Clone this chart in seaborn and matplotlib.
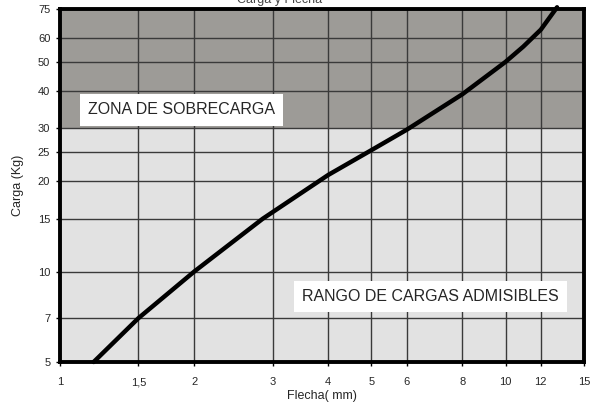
import matplotlib
matplotlib.use('Agg')
import matplotlib.pyplot as plt
from matplotlib.ticker import FixedLocator, NullLocator
import pandas as pd
import seaborn as sns

# curva carga - flecha
flecha = [1.19, 1.5, 2.0, 2.85, 4.0, 5.0, 6.0, 8.0, 10.0, 10.96, 12.0, 13.05]
carga = [5, 7, 10, 15, 21.0, 25.4, 29.7, 39.0, 50, 56.2, 64, 76]

x_ticks = [1, 1.5, 2, 3, 4, 5, 6, 8, 10, 12, 15]
x_labels = ['1', '1,5', '2', '3', '4', '5', '6', '8', '10', '12', '15']
y_ticks = [5, 7, 10, 15, 20, 25, 30, 40, 50, 60, 75]
y_labels = [str(v) for v in y_ticks]

limite_sobrecarga = 30

sns.set_style('white')
plt.rcParams['font.family'] = ['Liberation Sans', 'DejaVu Sans']

df = pd.DataFrame({'flecha': flecha, 'carga': carga})

fig = plt.figure(figsize=(5.92, 4.07), dpi=100)
ax = fig.add_axes([60 / 592, 1 - 362 / 407, 524 / 592, 353 / 407])
ax.set_xscale('log')
ax.set_yscale('log')
ax.set_xlim(1, 15)
ax.set_ylim(5, 75)

# zonas
ax.axhspan(5, limite_sobrecarga, color='#e2e2e2', zorder=0, lw=0)
ax.axhspan(limite_sobrecarga, 75, color='#9d9b97', zorder=0, lw=0)

# rejilla
for v in x_ticks[1:-1]:
    ax.axvline(v, color='#3a3a3a', lw=1.0, zorder=1)
for v in y_ticks[1:-1]:
    ax.axhline(v, color='#3a3a3a', lw=1.0, zorder=1)

sns.lineplot(data=df, x='flecha', y='carga', ax=ax, color='black', lw=3.2,
             sort=False, zorder=3, clip_on=False)

ax.xaxis.set_major_locator(FixedLocator(x_ticks))
ax.xaxis.set_minor_locator(NullLocator())
ax.set_xticklabels(x_labels)
ax.yaxis.set_major_locator(FixedLocator(y_ticks))
ax.yaxis.set_minor_locator(NullLocator())
ax.set_yticklabels(y_labels)
ax.tick_params(axis='both', labelsize=8, length=3, width=1, direction='out',
               bottom=True, left=True, color='black', pad=4)
ax.tick_params(axis='x', pad=8)

for s in ax.spines.values():
    s.set_visible(True)
    s.set_color('black')
    s.set_linewidth(2.8)
    s.set_zorder(4)

ax.set_xlabel('Flecha( mm)', fontsize=9, labelpad=2)
ax.set_ylabel('Carga (Kg)', fontsize=9, labelpad=10)

ax.text(1.155, 34.6, 'ZONA DE SOBRECARGA', fontsize=11.5, va='center', ha='left',
        zorder=5, bbox=dict(facecolor='white', edgecolor='none', pad=6))
ax.text(3.49, 8.26, 'RANGO DE CARGAS ADMISIBLES', fontsize=11.5, va='center',
        ha='left', zorder=5, bbox=dict(facecolor='white', edgecolor='none', pad=6))

# titulo, cortado por el borde superior como en el original
fig.text(280 / 592, 1 - 2.5 / 407, 'Carga y Flecha', fontsize=9, ha='center',
         va='baseline', color='#444444')

fig.savefig('out.png', dpi=100)
